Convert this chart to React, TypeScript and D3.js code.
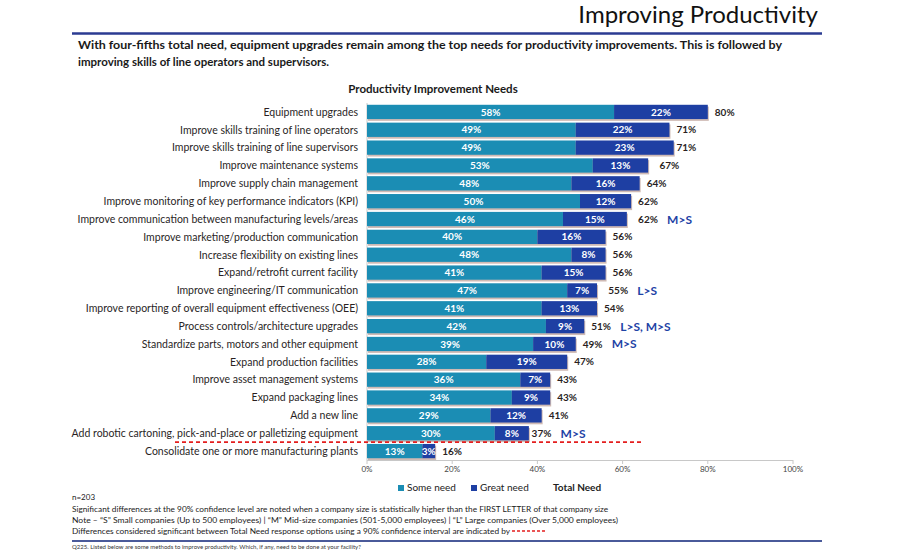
import React from "react";
import * as d3 from "d3";

const categories = [
  "Equipment upgrades",
  "Improve skills training of line operators",
  "Improve skills training of line supervisors",
  "Improve maintenance systems",
  "Improve supply chain management",
  "Improve monitoring of key performance indicators (KPI)",
  "Improve communication between manufacturing levels/areas",
  "Improve marketing/production communication",
  "Increase flexibility on existing lines",
  "Expand/retrofit current facility",
  "Improve engineering/IT communication",
  "Improve reporting of overall equipment effectiveness (OEE)",
  "Process controls/architecture upgrades",
  "Standardize parts, motors and other equipment",
  "Expand production facilities",
  "Improve asset management systems",
  "Expand packaging lines",
  "Add a new line",
  "Add robotic cartoning, pick-and-place or palletizing equipment",
  "Consolidate one or more manufacturing plants",
];
const someNeed = [58, 49, 49, 53, 48, 50, 46, 40, 48, 41, 47, 41, 42, 39, 28, 36, 34, 29, 30, 13];
const greatNeed = [22, 22, 23, 13, 16, 12, 15, 16, 8, 15, 7, 13, 9, 10, 19, 7, 9, 12, 8, 3];
const totalNeed = [80, 71, 71, 67, 64, 62, 62, 56, 56, 56, 55, 54, 51, 49, 47, 43, 43, 41, 37, 16];
const sigLabels = ["", "", "", "", "", "", "M>S", "", "", "", "L>S", "", "L>S, M>S", "M>S", "", "", "", "", "M>S", ""];
const xTicks = [0, 20, 40, 60, 80, 100];

const TEAL = "#1b8db4";
const DARK = "#1e3fa3";
const SIG = "#1f43a6";
const FONT = "Lato, 'Open Sans', sans-serif";

export default function App() {
  const x = d3.scaleLinear().domain([0, 100]).range([367, 793]);
  const y = d3.scaleBand<string>().domain(categories).range([103, 460]).paddingInner(0.2).paddingOuter(0.1);
  const bh = y.bandwidth();
  const redY = (y(categories[18])! + y(categories[19])! + bh) / 2;

  return (
    <svg width={900} height={550} style={{ display: "block", position: "absolute", left: 0, top: 0, background: "#fff" }} fontFamily={FONT}>
      <rect x={0} y={0} width={900} height={550} fill="#fff" />
      <text x={818} y={23} textAnchor="end" fontSize={24} fill="#111">Improving Productivity</text>
      <line x1={72} x2={822} y1={33.5} y2={33.5} stroke="#2b3b92" strokeWidth={2.5} />
      <text x={78} y={49} fontSize={11.5} fontWeight={700} fill="#1a1a1a" textLength={704} lengthAdjust="spacingAndGlyphs">
        With four-fifths total need, equipment upgrades remain among the top needs for productivity improvements.  This is followed by
      </text>
      <text x={78} y={66} fontSize={11.5} fontWeight={700} fill="#1a1a1a">
        improving skills of line operators and supervisors.
      </text>
      <text x={433} y={93} textAnchor="middle" fontSize={11.5} fontWeight={700} fill="#1a1a1a">Productivity Improvement Needs</text>

      {/* axes */}
      <line x1={x(0)} x2={x(0)} y1={103} y2={460} stroke="#c8c8c8" strokeWidth={1} />
      <line x1={x(0)} x2={x(100)} y1={460.5} y2={460.5} stroke="#c8c8c8" strokeWidth={1} />
      {xTicks.map((t) => (
        <g key={t}>
          <line x1={x(t)} x2={x(t)} y1={460} y2={464} stroke="#c8c8c8" />
          <text x={x(t)} y={472} textAnchor="middle" fontSize={8} fill="#444">{t}%</text>
        </g>
      ))}

      {categories.map((c, i) => {
        const y0 = y(c)!;
        const cy = y0 + bh / 2;
        const xs = x(0), xm = x(someNeed[i]), xe = x(someNeed[i] + greatNeed[i]);
        return (
          <g key={c}>
            <text x={358} y={cy + 3.8} textAnchor="end" fontSize={10.5} fill="#2a1f1f">{c}</text>
            <rect x={xs + 1} y={y0 + 1.8} width={xe - xs} height={bh} fill="#a88276" opacity={0.55} />
            <rect x={xs} y={y0} width={xm - xs} height={bh} fill={TEAL} />
            <rect x={xm} y={y0} width={xe - xm} height={bh} fill={DARK} />
            <text x={(xs + xm) / 2} y={cy + 3.6} textAnchor="middle" fontSize={10} fontWeight={700} fill="#fff">{someNeed[i]}%</text>
            <text x={(xm + xe) / 2} y={cy + 3.6} textAnchor="middle" fontSize={10} fontWeight={700} fill="#fff">{greatNeed[i]}%</text>
            <text x={x(totalNeed[i]) + 7} y={cy + 3.6} fontSize={10} fontWeight={700} fill="#2a1f1f">{totalNeed[i]}%</text>
            {sigLabels[i] && (
              <text x={x(totalNeed[i]) + 36} y={cy + 4.5} fontSize={12} fontWeight={700} fill={SIG}>{sigLabels[i]}</text>
            )}
          </g>
        );
      })}

      <line x1={175} x2={641} y1={redY} y2={redY} stroke="#e41e1e" strokeWidth={1.8} strokeDasharray="4,3" />

      {/* legend */}
      <rect x={398} y={485} width={6} height={6} fill={TEAL} />
      <text x={407} y={491} fontSize={10} fill="#222">Some need</text>
      <rect x={471} y={485} width={6} height={6} fill={DARK} />
      <text x={480} y={491} fontSize={10} fill="#222">Great need</text>
      <text x={553} y={491} fontSize={10} fontWeight={700} fill="#222">Total Need</text>

      {/* footnotes */}
      <g fontSize={8} fill="#1a1a1a">
        <text x={72} y={500}>n=203</text>
        <text x={72} y={512} textLength={536} lengthAdjust="spacingAndGlyphs">Significant differences at the 90% confidence level are noted when a company size is statistically higher than the FIRST LETTER of that company size</text>
        <text x={72} y={523} textLength={546} lengthAdjust="spacingAndGlyphs">{"Note – \u201CS\u201D Small companies (Up to 500 employees) | \u201CM\u201D Mid-size companies (501-5,000 employees) | \u201CL\u201D Large companies (Over 5,000 employees)"}</text>
        <text x={72} y={534} textLength={438} lengthAdjust="spacingAndGlyphs">Differences considered significant between Total Need response options using a 90% confidence interval are indicated by</text>
      </g>
      <line x1={512} x2={545} y1={531} y2={531} stroke="#e41e1e" strokeWidth={1.5} strokeDasharray="3,2" />
      <line x1={72} x2={822} y1={541} y2={541} stroke="#4a5a9a" strokeWidth={2} />
      <text x={72} y={548.5} fontSize={6} fill="#333">Q225. Listed below are some methods to improve productivity. Which, if any, need to be done at your facility?</text>
    </svg>
  );
}
